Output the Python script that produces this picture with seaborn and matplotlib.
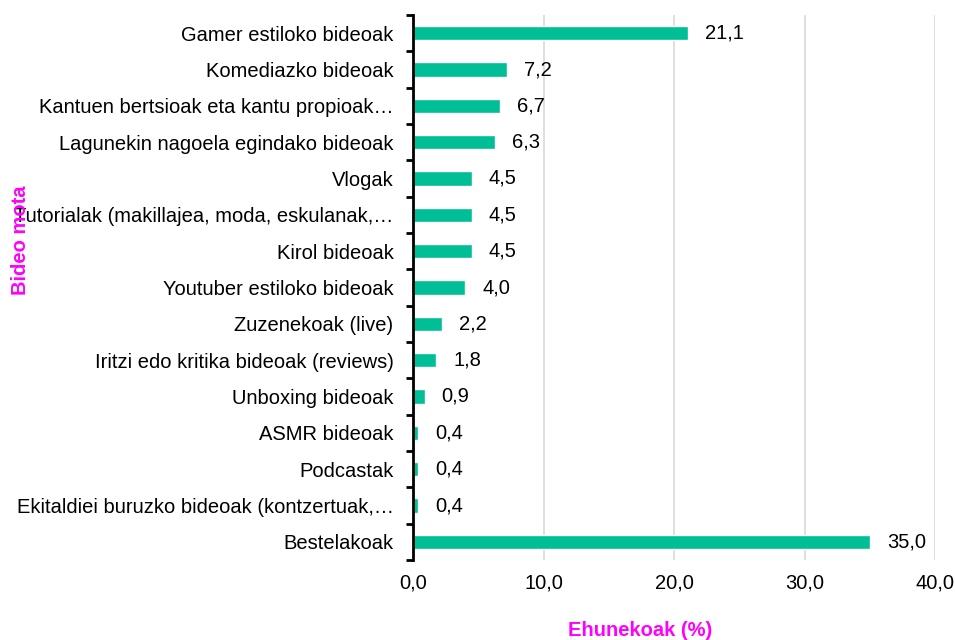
import matplotlib

matplotlib.use("Agg")
import matplotlib.pyplot as plt
import numpy as np
import pandas as pd
import seaborn as sns
from matplotlib.ticker import FixedLocator

# --- Data ------------------------------------------------------------------
CATEGORIES = [
    "Gamer estiloko bideoak",
    "Komediazko bideoak",
    "Kantuen bertsioak eta kantu propioak…",
    "Lagunekin nagoela egindako bideoak",
    "Vlogak",
    "Tutorialak (makillajea, moda, eskulanak,…",
    "Kirol bideoak",
    "Youtuber estiloko bideoak",
    "Zuzenekoak (live)",
    "Iritzi edo kritika bideoak (reviews)",
    "Unboxing bideoak",
    "ASMR bideoak",
    "Podcastak",
    "Ekitaldiei buruzko bideoak (kontzertuak,…",
    "Bestelakoak",
]
PERCENTS = [21.1, 7.2, 6.7, 6.3, 4.5, 4.5, 4.5, 4.0, 2.2, 1.8, 0.9, 0.4, 0.4, 0.4, 35.0]
X_TICKS = [0, 10, 20, 30, 40]

BAR_COLOR = "#00BF96"
LABEL_COLOR = "#FF00FF"
FS = 14.5

df = pd.DataFrame({"mota": CATEGORIES, "pct": PERCENTS})

sns.set_style("white")
plt.rcParams["font.family"] = ["Liberation Sans", "DejaVu Sans"]

fig = plt.figure(figsize=(9.55, 6.4), dpi=100)
ax = fig.add_axes([413 / 955, 1 - 560 / 640, (935 - 413) / 955, (560 - 15) / 640])

sns.barplot(data=df, x="pct", y="mota", color=BAR_COLOR, width=0.4,
            saturation=1, ax=ax, zorder=3)

# value labels, comma decimal
for i, v in enumerate(PERCENTS):
    ax.annotate(f"{v:.1f}".replace(".", ","), (v, i), xytext=(17, 0),
                textcoords="offset pixels", va="center", ha="left",
                fontsize=FS, color="black")

ax.set_xlim(0, 40)
ax.set_ylim(len(CATEGORIES) - 0.5, -0.5)
ax.set_xticks(X_TICKS)
ax.set_xticklabels([f"{t:.1f}".replace(".", ",") for t in X_TICKS])
ax.tick_params(axis="x", length=0, pad=10, labelsize=FS, labelcolor="black")
ax.tick_params(axis="y", which="major", left=False, length=0, pad=14,
               labelsize=FS, labelcolor="black")
ax.yaxis.set_minor_locator(FixedLocator(np.arange(-0.5, len(CATEGORIES), 1.0)))
ax.tick_params(axis="y", which="minor", left=True, length=5, width=2, color="black")

ax.grid(axis="x", color="#d9d9d9", linewidth=1.2, zorder=0)
ax.grid(axis="y", visible=False)
for side in ["top", "right", "bottom"]:
    ax.spines[side].set_visible(False)
ax.spines["left"].set_linewidth(2)
ax.spines["left"].set_color("black")
ax.spines["left"].set_zorder(4)

ax.set_xlabel("")
ax.set_ylabel("")
fig.text(640 / 955, 1 - 630 / 640, "Ehunekoak (%)", ha="center", va="center",
         fontsize=FS, fontweight="bold", color=LABEL_COLOR)
fig.text(20 / 955, 1 - 240 / 640, "Bideo mota", ha="center", va="center",
         rotation=90, fontsize=FS, fontweight="bold", color=LABEL_COLOR)

fig.savefig("out.png", dpi=100)
